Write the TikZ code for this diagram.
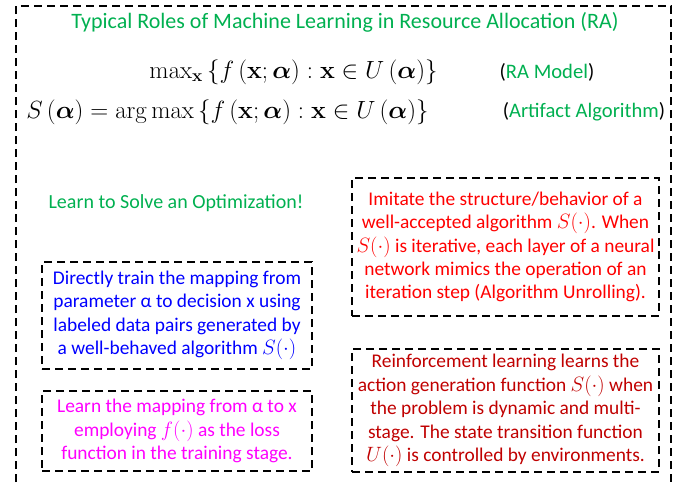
\documentclass[tikz,border=0pt]{standalone}
\usepackage{amsmath}
\usepackage[no-math]{fontspec}
\setmainfont{Carlito}
\usepackage{tikz}
\definecolor{ragreen}{RGB}{0,176,80}
\definecolor{rablue}{RGB}{0,0,255}
\definecolor{ramagenta}{RGB}{255,0,255}
\definecolor{rared}{RGB}{255,0,0}
\definecolor{radarkred}{RGB}{192,0,0}
\tikzset{
	dashline/.style={line width=1.5pt, dash pattern=on 8pt off 5pt},
	rolebox/.style={dashline, draw=black, align=center, inner sep=0pt,
		font=\fontsize{19.4}{23.4}\selectfont},
	plain/.style={inner sep=0pt, font=\fontsize{20}{24}\selectfont},
	formula/.style={inner sep=0pt, font=\fontsize{25.5}{30}\selectfont}
}

\begin{document}
\begin{tikzpicture}[x=1pt, y=-1pt]
		%%%%% START %%%%%
		\useasboundingbox (0, 0) rectangle (686, 485);
		
		\draw[dashline] (16, 495) -- (16, 6) -- (671, 6) -- (671, 495);
		
		\node[plain, text=ragreen, font=\fontsize{22}{26}\selectfont] (title) at (345, 22) {Typical Roles of Machine Learning in Resource Allocation (RA)};
		
		\node[formula] (ramodel) at (293.5, 72) {$\max_{\mathbf{x}}\left\{f\left(\mathbf{x};\boldsymbol{\alpha}\right):\mathbf{x}\in U\left(\boldsymbol{\alpha}\right)\right\}$};
		\node[formula, font=\fontsize{26.5}{30}\selectfont] (artifact) at (227.5, 112) {$S\left(\boldsymbol{\alpha}\right)=\arg\max\left\{f\left(\mathbf{x};\boldsymbol{\alpha}\right):\mathbf{x}\in U\left(\boldsymbol{\alpha}\right)\right\}$};
		\node[plain, font=\fontsize{20.6}{24}\selectfont] (ramodeltag) at (547, 72) {(\textcolor{ragreen}{RA Model})};
		\node[plain, font=\fontsize{20.6}{24}\selectfont] (artifacttag) at (584, 112) {(\textcolor{ragreen}{Artifact Algorithm})};
		
		\node[plain, text=ragreen] (learnsolve) at (176, 203) {Learn to Solve an Optimization!};
		
		\node[rolebox, text=rablue, minimum width=270pt, minimum height=107pt] (direct) at (177, 315.5)
			{Directly train the mapping from\\ parameter α to decision x using\\ labeled data pairs generated by\\ a well-behaved algorithm $S(\cdot)$};
		\node[rolebox, text=ramagenta, minimum width=270pt, minimum height=80pt] (lossfn) at (177, 431)
			{Learn the mapping from α to x\\ employing $f(\cdot)$ as the loss\\ function in the training stage.};
		
		\node[rolebox, text=rared, minimum width=307pt, minimum height=138pt] (unroll) at (505.5, 247)
			{Imitate the structure/behavior of a\\ well-accepted algorithm $S(\cdot)$. When\\ $S(\cdot)$ is iterative, each layer of a neural\\ network mimics the operation of an\\ iteration step (Algorithm Unrolling).};
		\node[rolebox, text=radarkred, minimum width=307pt, minimum height=123pt] (reinforce) at (505.5, 410.5)
			{Reinforcement learning learns the\\ action generation function $S(\cdot)$ when\\ the problem is dynamic and multi-\\ stage. The state transition function\\ $U(\cdot)$ is controlled by environments.};
		
		%%%%% END %%%%%
	\end{tikzpicture}
\end{document}
